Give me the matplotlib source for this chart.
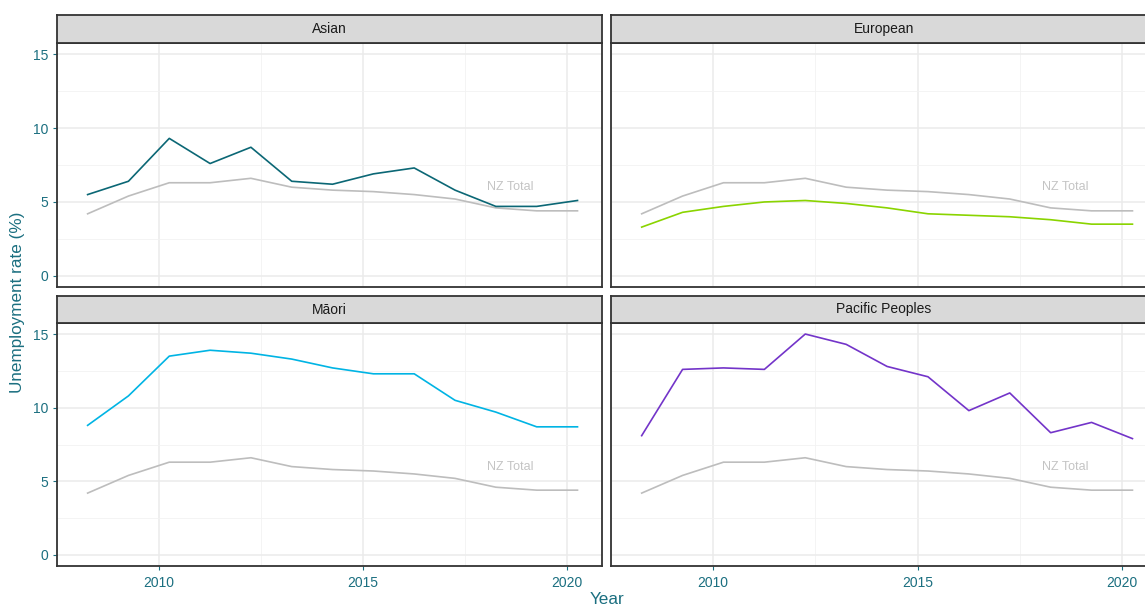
import numpy as np
import matplotlib.pyplot as plt

plt.rcParams['font.family'] = ['Liberation Sans', 'DejaVu Sans']

years = np.arange(2008, 2021) + 0.25

nz_total = [4.2, 5.4, 6.3, 6.3, 6.6, 6.0, 5.8, 5.7, 5.5, 5.2, 4.6, 4.4, 4.4]
asian = [5.5, 6.4, 9.3, 7.6, 8.7, 6.4, 6.2, 6.9, 7.3, 5.8, 4.7, 4.7, 5.1]
european = [3.3, 4.3, 4.7, 5.0, 5.1, 4.9, 4.6, 4.2, 4.1, 4.0, 3.8, 3.5, 3.5]
maori = [8.8, 10.8, 13.5, 13.9, 13.7, 13.3, 12.7, 12.3, 12.3, 10.5, 9.7, 8.7, 8.7]
pacific = [8.1, 12.6, 12.7, 12.6, 15.0, 14.3, 12.8, 12.1, 9.8, 11.0, 8.3, 9.0, 7.9]

groups = ['Asian', 'European', 'Māori', 'Pacific Peoples']
series = [asian, european, maori, pacific]
colours = ['#0B6775', '#8AD400', '#00B4E4', '#7334C9']

axis_col = '#1B6F80'
W, H = 1145, 607

fig = plt.figure(figsize=(W / 100, H / 100), dpi=100)

# panel boxes in pixels: (left, right, top, bottom) of plot area, strip height
boxes = [(57, 602, 43, 287, 28), (611, 1157, 43, 287, 28),
         (57, 602, 323, 566, 27), (611, 1157, 323, 566, 27)]

for i, (name, vals, col) in enumerate(zip(groups, series, colours)):
    l, r, t, b, sh = boxes[i]
    ax = fig.add_axes([l / W, 1 - b / H, (r - l) / W, (b - t) / H])
    ax.set_xlim(2007.65, 2020.85)
    ax.set_ylim(-0.75, 15.75)
    ax.set_xticks([2010, 2015, 2020])
    ax.set_xticks([2007.5, 2012.5, 2017.5], minor=True)
    ax.set_yticks([0, 5, 10, 15])
    ax.set_yticks([2.5, 7.5, 12.5], minor=True)
    ax.grid(which='major', color='#EBEBEB', lw=1.1)
    ax.grid(which='minor', color='#F2F2F2', lw=0.6)
    ax.set_axisbelow(True)
    for s in ax.spines.values():
        s.set_color('#333333')
        s.set_linewidth(1.3)

    ax.plot(years, nz_total, color='#BDBDBD', lw=1.2)
    ax.plot(years, vals, color=col, lw=1.2)
    ax.text(2018.6, 6.0, 'NZ Total', color='#C4C4C4', fontsize=9,
            ha='center', va='center')

    ax.tick_params(which='minor', length=0)
    ax.tick_params(which='major', colors=axis_col, labelsize=10, length=3,
                   width=0.8)
    ax.tick_params(axis='x', pad=4.5)
    ax.tick_params(axis='y', pad=3)
    if i % 2 == 1:
        ax.tick_params(axis='y', left=False, labelleft=False)
    if i < 2:
        ax.tick_params(axis='x', bottom=False, labelbottom=False)

    # facet strip
    sax = fig.add_axes([l / W, 1 - t / H, (r - l) / W, sh / H])
    sax.set_facecolor('#D9D9D9')
    sax.set_xticks([])
    sax.set_yticks([])
    for s in sax.spines.values():
        s.set_color('#333333')
        s.set_linewidth(1.3)
    sax.text(0.5, 0.5, name, transform=sax.transAxes, ha='center',
             va='center', fontsize=10, color='#1A1A1A')

fig.text(18 / W, 1 - 302 / H, 'Unemployment rate (%)', rotation=90,
         ha='center', va='center', color=axis_col, fontsize=12.3)
fig.text(607 / W, 1 - 600 / H, 'Year', ha='center', va='center',
         color=axis_col, fontsize=12.3)

fig.savefig('out.png', dpi=100)
